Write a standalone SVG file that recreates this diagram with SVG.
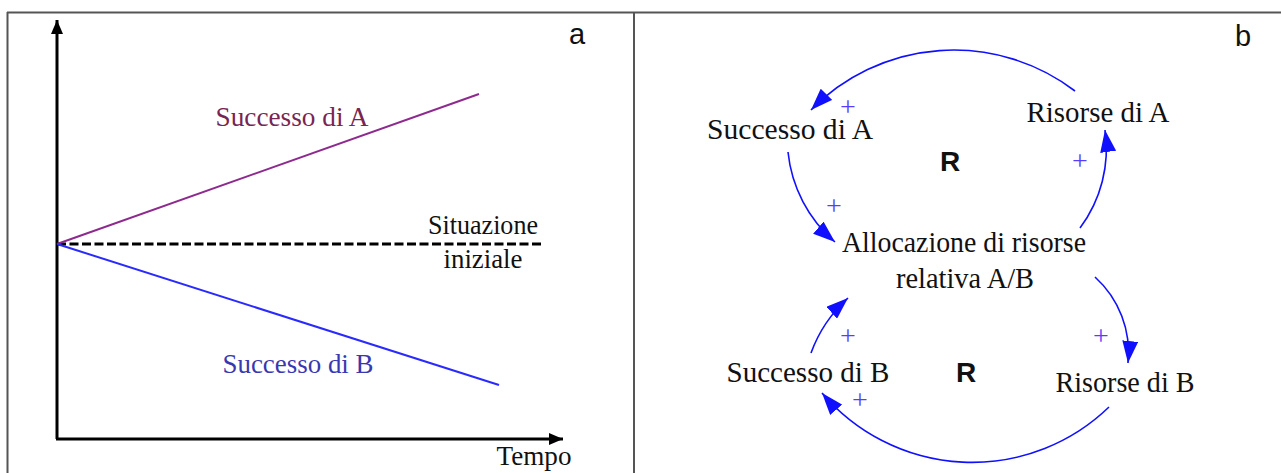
<svg xmlns="http://www.w3.org/2000/svg" width="1281" height="473" viewBox="0 0 1281 473">
<defs>
<style>
.frame{stroke:#555;stroke-width:2;fill:none}
.axis{stroke:#000;stroke-width:3;fill:none}
.serif{font-family:"Liberation Serif","Times New Roman",serif}
.sans{font-family:"Liberation Sans",Arial,sans-serif}
.lbl{font-size:27px;text-anchor:middle}
.node{font-size:29px;text-anchor:middle;fill:#111}
.link{stroke:#1010ff;stroke-width:1.6;fill:none;marker-end:url(#ah)}
.plus{font-size:28px;text-anchor:middle;fill:#5a3cff}
</style>
<marker id="ah" viewBox="0 0 22 16" refX="22" refY="8" markerWidth="22" markerHeight="16" markerUnits="userSpaceOnUse" orient="auto">
<path d="M0,0 L22,8 L0,16 Z" fill="#1010ff"/>
</marker>
<marker id="ak" viewBox="0 0 14 12" refX="14" refY="6" markerWidth="14" markerHeight="12" markerUnits="userSpaceOnUse" orient="auto">
<path d="M0,0 L14,6 L0,12 Z" fill="#000"/>
</marker>
</defs>
<rect width="1281" height="473" fill="#fff"/>
<g id="frame">
<line class="frame" x1="7" y1="12.5" x2="1281" y2="12.5"/>
<line class="frame" x1="7.5" y1="12" x2="7.5" y2="473"/>
<line class="frame" x1="634" y1="12" x2="634" y2="473"/>
</g>
<g id="panel-a">
<line class="axis" x1="57" y1="439" x2="57" y2="20" marker-end="url(#ak)"/>
<line class="axis" x1="56" y1="439" x2="563" y2="439" marker-end="url(#ak)"/>
<line x1="57" y1="244" x2="541" y2="244" stroke="#000" stroke-width="3" stroke-dasharray="9,3.5"/>
<line x1="57" y1="244" x2="479" y2="94" stroke="#8e2a8e" stroke-width="2"/>
<line x1="57" y1="244" x2="499" y2="385" stroke="#2a2aff" stroke-width="2"/>
<text class="serif lbl" x="292" y="126" fill="#7a2452" textLength="153" lengthAdjust="spacingAndGlyphs">Successo di A</text>
<text class="serif lbl" x="483" y="234" fill="#111" textLength="110" lengthAdjust="spacingAndGlyphs">Situazione</text>
<text class="serif lbl" x="483" y="268" fill="#111" textLength="79" lengthAdjust="spacingAndGlyphs">iniziale</text>
<text class="serif lbl" x="298" y="373" fill="#3838b0" textLength="151" lengthAdjust="spacingAndGlyphs">Successo di B</text>
<text class="serif lbl" x="534" y="465" fill="#111" textLength="75" lengthAdjust="spacingAndGlyphs">Tempo</text>
<text class="sans" x="577" y="44" font-size="29" text-anchor="middle" fill="#111">a</text>
</g>
<g id="panel-b-label">
<text class="sans" x="1243" y="46" font-size="29" text-anchor="middle" fill="#111">b</text>
</g>
<g id="node-successo-a"><text class="serif node" x="790" y="139" textLength="166" lengthAdjust="spacingAndGlyphs">Successo di A</text></g>
<g id="node-risorse-a"><text class="serif node" x="1098" y="122" textLength="143" lengthAdjust="spacingAndGlyphs">Risorse di A</text></g>
<g id="node-allocazione"><text class="serif node" x="964" y="252" textLength="244" lengthAdjust="spacingAndGlyphs">Allocazione di risorse</text><text class="serif node" x="965" y="288" textLength="138" lengthAdjust="spacingAndGlyphs">relativa A/B</text></g>
<g id="node-successo-b"><text class="serif node" x="808" y="382" textLength="163" lengthAdjust="spacingAndGlyphs">Successo di B</text></g>
<g id="node-risorse-b"><text class="serif node" x="1125" y="392" textLength="139" lengthAdjust="spacingAndGlyphs">Risorse di B</text></g>
<g id="loop-labels">
<text class="sans" x="950" y="171" font-size="28" font-weight="bold" text-anchor="middle" fill="#111">R</text>
<text class="sans" x="966" y="382" font-size="28" font-weight="bold" text-anchor="middle" fill="#111">R</text>
</g>
<g id="connectors">
<path class="link" d="M1075,91 A200,200 0 0 0 811,110"/>
<path class="link" d="M788,152 A137,137 0 0 0 835,242"/>
<path class="link" d="M1080,228 A132,132 0 0 0 1105,130"/>
<path class="link" d="M1095,277 A102,102 0 0 1 1128,363"/>
<path class="link" d="M1109,407 A197,197 0 0 1 822,393"/>
<path class="link" d="M811,353 A138,138 0 0 1 848,298"/>
<text class="serif plus" x="848" y="116">+</text>
<text class="serif plus" x="834" y="215">+</text>
<text class="serif plus" x="1080" y="170">+</text>
<text class="serif plus" x="1101" y="345">+</text>
<text class="serif plus" x="848" y="345">+</text>
<text class="serif plus" x="860" y="409">+</text>
</g>
</svg>
